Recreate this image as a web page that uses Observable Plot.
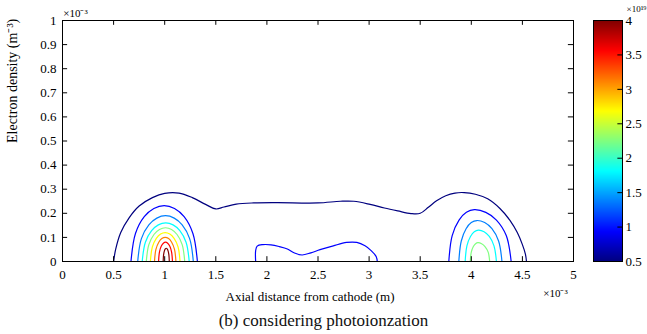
<!DOCTYPE html>
<html>
<head>
<meta charset="utf-8">
<script src="https://cdn.jsdelivr.net/npm/d3@7"></script>
<script src="https://cdn.jsdelivr.net/npm/@observablehq/plot@0.6"></script>
<style>
  html, body { margin: 0; padding: 0; background: #fff; overflow: hidden; }
  #chart { position: relative; width: 647px; height: 334px; font-family: "Liberation Serif", "Times New Roman", serif; }
  #main { position: absolute; left: 0; top: 0; }
  #bar { position: absolute; left: 593px; top: 0; }
  #caption { position: absolute; left: 0; top: 311px; width: 647px; text-align: center; font-size: 17px; color: #111; }
</style>
</head>
<body>
<div id="chart">
  <div id="main"></div>
  <div id="bar"></div>
  <div id="caption">(b) considering photoionzation</div>
</div>
<script>
// Contour levels (×10^19 m^-3) and the jet colour stops they map to
const levels = [0.5, 0.9375, 1.375, 1.8125, 2.25, 2.6875, 3.125, 3.5625, 4];
const jet = ["#00007f", "#0000ff", "#007fff", "#00ffff", "#7fff7f", "#ffff00", "#ff7f00", "#ff0000", "#7f0000"];

// Axis ticks (x in 10^-3 m, y in 10^-3)
const xTicks = [0, 0.5, 1, 1.5, 2, 2.5, 3, 3.5, 4, 4.5, 5];
const yTicks = [0, 0.1, 0.2, 0.3, 0.4, 0.5, 0.6, 0.7, 0.8, 0.9, 1];
const barTicks = [0.5, 1, 1.5, 2, 2.5, 3, 3.5, 4];

// Lowest level: one envelope spanning both discharge peaks
const envelope = [[0.50, 0], [0.52, 0.05], [0.57, 0.12], [0.65, 0.18], [0.75, 0.23], [0.88, 0.265], [1.0, 0.283],
  [1.14, 0.284], [1.27, 0.265], [1.40, 0.237], [1.50, 0.218], [1.58, 0.226], [1.70, 0.238], [1.87, 0.243],
  [2.1, 0.244], [2.5, 0.243], [2.72, 0.25], [2.85, 0.25], [3.01, 0.237], [3.15, 0.222], [3.28, 0.21],
  [3.41, 0.199], [3.50, 0.2], [3.58, 0.225], [3.66, 0.252], [3.75, 0.273], [3.84, 0.284], [3.93, 0.286],
  [4.04, 0.279], [4.16, 0.26], [4.28, 0.22], [4.38, 0.17], [4.45, 0.12], [4.50, 0.07], [4.53, 0.03], [4.54, 0]];

// Small island between the peaks (second level)
const middle2 = [[1.89, 0], [1.89, 0.045], [1.905, 0.064], [1.96, 0.07], [2.04, 0.069], [2.12, 0.062], [2.2, 0.052],
  [2.27, 0.035], [2.345, 0.027], [2.43, 0.036], [2.52, 0.049], [2.65, 0.065], [2.78, 0.079], [2.88, 0.079],
  [2.96, 0.065], [3.02, 0.045], [3.07, 0.02], [3.08, 0]];

// Cathode-side peak, levels 2..9
const left2 = [[0.67, 0], [0.714, 0.116], [0.80, 0.186], [0.894, 0.22], [0.995, 0.232], [1.096, 0.22], [1.19, 0.186], [1.276, 0.116], [1.32, 0]];
const left3 = [[0.736, 0], [0.772, 0.095], [0.845, 0.152], [0.923, 0.18], [1.008, 0.19], [1.093, 0.18], [1.171, 0.152], [1.244, 0.095], [1.28, 0]];
const left4 = [[0.78, 0], [0.811, 0.08], [0.872, 0.128], [0.938, 0.152], [1.01, 0.16], [1.082, 0.152], [1.148, 0.128], [1.209, 0.08], [1.24, 0]];
const left5 = [[0.82, 0], [0.845, 0.07], [0.895, 0.112], [0.949, 0.133], [1.008, 0.14], [1.067, 0.133], [1.121, 0.112], [1.171, 0.07], [1.196, 0]];
const left6 = [[0.86, 0], [0.879, 0.06], [0.918, 0.096], [0.96, 0.114], [1.005, 0.12], [1.05, 0.114], [1.092, 0.096], [1.131, 0.06], [1.15, 0]];
const left7 = [[0.90, 0], [0.914, 0.05], [0.942, 0.08], [0.972, 0.095], [1.005, 0.10], [1.038, 0.095], [1.068, 0.08], [1.096, 0.05], [1.11, 0]];
const left8 = [[0.94, 0], [0.949, 0.04], [0.967, 0.064], [0.987, 0.076], [1.008, 0.08], [1.029, 0.076], [1.049, 0.064], [1.067, 0.04], [1.076, 0]];
const left9 = [[0.985, 0], [0.989, 0.0275], [0.997, 0.044], [1.006, 0.052], [1.015, 0.055], [1.024, 0.052], [1.033, 0.044], [1.041, 0.0275], [1.045, 0]];

// Anode-side peak, levels 2..5
const right2 = [[3.78, 0], [3.813, 0.1075], [3.88, 0.172], [3.952, 0.204], [4.03, 0.215], [4.142, 0.204], [4.246, 0.172], [4.342, 0.1075], [4.39, 0]];
const right3 = [[3.878, 0], [3.902, 0.085], [3.949, 0.136], [4.0, 0.1615], [4.055, 0.17], [4.131, 0.1615], [4.202, 0.136], [4.267, 0.085], [4.30, 0]];
const right4 = [[3.94, 0], [3.957, 0.065], [3.992, 0.104], [4.029, 0.1235], [4.07, 0.13], [4.125, 0.1235], [4.176, 0.104], [4.222, 0.065], [4.246, 0]];
const right5 = [[3.99, 0], [4.0, 0.039], [4.02, 0.062], [4.042, 0.074], [4.065, 0.078], [4.101, 0.074], [4.134, 0.062], [4.165, 0.039], [4.18, 0]];

const contours = [
  [levels[0], envelope], [levels[1], middle2],
  [levels[1], left2], [levels[2], left3], [levels[3], left4], [levels[4], left5],
  [levels[5], left6], [levels[6], left7], [levels[7], left8], [levels[8], left9],
  [levels[1], right2], [levels[2], right3], [levels[3], right4], [levels[4], right5]
];
const rows = contours.flatMap(([level, pts], id) => pts.map(([x, y]) => ({x, y, level, id})));

const font = "'Liberation Serif', 'Times New Roman', serif";
const colorScale = {type: "linear", domain: levels, range: jet};
const plain = d => String(d);

const main = Plot.plot({
  width: 647,
  height: 311,
  marginLeft: 62,
  marginRight: 74,
  marginTop: 20,
  marginBottom: 50,
  style: {fontFamily: font, fontSize: "13px", color: "#000", background: "transparent"},
  x: {domain: [0, 5]},
  y: {domain: [0, 1]},
  color: colorScale,
  marks: [
    Plot.line(rows, {x: "x", y: "y", z: "id", stroke: "level", strokeWidth: 1.2, curve: "catmull-rom"}),
    // inward ticks on all four sides
    Plot.ruleX(xTicks, {x: d => d, y1: 0, y2: 0.02, stroke: "#000"}),
    Plot.ruleX(xTicks, {x: d => d, y1: 0.98, y2: 1, stroke: "#000"}),
    Plot.ruleY(yTicks, {y: d => d, x1: 0, x2: 0.05, stroke: "#000"}),
    Plot.ruleY(yTicks, {y: d => d, x1: 4.95, x2: 5, stroke: "#000"}),
    Plot.frame({stroke: "#000", strokeWidth: 1}),
    Plot.axisX(xTicks, {tickSize: 0, tickPadding: 8, fontSize: 13, tickFormat: plain, label: null}),
    Plot.axisY(yTicks, {tickSize: 0, tickPadding: 6, fontSize: 13, tickFormat: plain, label: null}),
    Plot.text(["Axial distance from cathode (m)"], {frameAnchor: "bottom", dx: -8, dy: 39, fontSize: 13}),
    Plot.text(["Electron density (m⁻³)"], {frameAnchor: "left", dx: -50, dy: 2, rotate: -90, fontSize: 14}),
    Plot.text(["×10⁻³"], {frameAnchor: "top-left", dx: 13, dy: -11, fontSize: 11, textAnchor: "middle"}),
    Plot.text(["×10⁻³"], {frameAnchor: "bottom-right", dx: -18, dy: 35, fontSize: 11, textAnchor: "middle"})
  ]
});
document.getElementById("main").append(main);

const bar = Plot.plot({
  width: 54,
  height: 311,
  marginLeft: 0,
  marginRight: 25,
  marginTop: 20,
  marginBottom: 50,
  style: {fontFamily: font, fontSize: "13px", color: "#000", background: "transparent"},
  x: {domain: [0, 1], axis: null},
  y: {domain: [0.5, 4]},
  color: colorScale,
  marks: [
    Plot.raster({x1: 0, x2: 1, y1: 0.5, y2: 4, fill: (x, y) => y}),
    Plot.ruleY(barTicks, {y: d => d, x1: 0.84, x2: 1, stroke: "#000"}),
    Plot.frame({stroke: "#000"}),
    Plot.axisY(barTicks, {anchor: "right", tickSize: 0, tickPadding: 3, fontSize: 13, tickFormat: plain, label: null}),
    Plot.text(["×10¹⁹"], {frameAnchor: "top-right", dx: 24, dy: -9, fontSize: 9, textAnchor: "end", lineAnchor: "bottom"})
  ]
});
document.getElementById("bar").append(bar);
</script>
</body>
</html>
